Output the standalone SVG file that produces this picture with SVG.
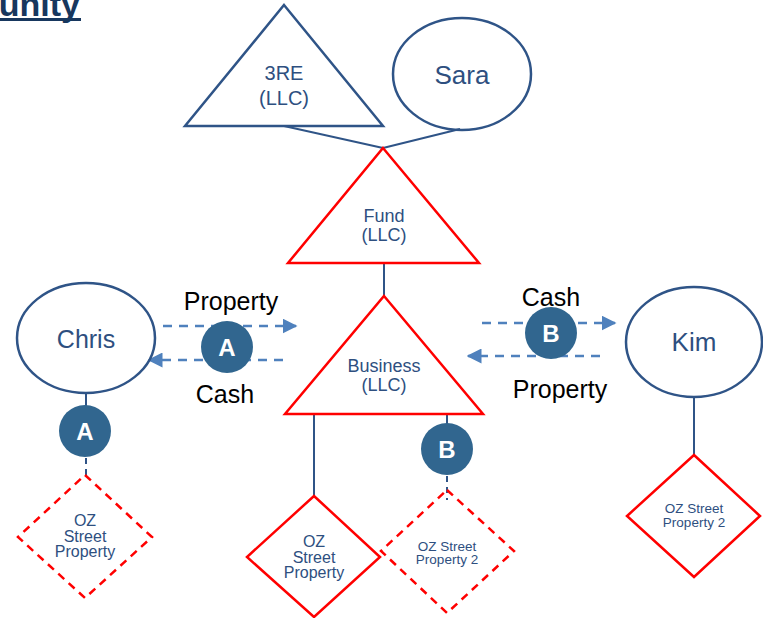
<svg xmlns="http://www.w3.org/2000/svg" width="763" height="618" viewBox="0 0 763 618">
<defs>
<style>
.nav{fill:none;stroke:#2F5487;stroke-width:2.5}
.red{fill:none;stroke:#FF0000;stroke-width:2.5}
.redd{fill:none;stroke:#FF0000;stroke-width:2.5;stroke-dasharray:8,6}
.ln{stroke:#2F5487;stroke-width:2;fill:none}
.lnd{stroke:#2F5487;stroke-width:2;fill:none;stroke-dasharray:6,5}
.arr{stroke:#4F81BD;stroke-width:2.5;fill:none;stroke-dasharray:9,7}
.t{font-family:"Liberation Sans",Arial,sans-serif;fill:#2E4F7F;text-anchor:middle}
.k{font-family:"Liberation Sans",Arial,sans-serif;fill:#000;text-anchor:middle;font-size:25px}
.bc{fill:#31668F}
.bl{font-family:"Liberation Sans",Arial,sans-serif;fill:#fff;font-weight:bold;font-size:24px;text-anchor:middle}
</style>
<marker id="ah" viewBox="0 0 10 10" refX="9" refY="5" markerWidth="6" markerHeight="6" markerUnits="strokeWidth" orient="auto">
<path d="M0,0 L10,5 L0,10 z" fill="#4F81BD"/>
</marker>
</defs>
<text x="80" y="16" font-family="Liberation Sans,Arial,sans-serif" font-weight="bold" font-size="34" fill="#17375E" text-anchor="end">Opportunity</text>
<rect x="0" y="18" width="81" height="3" fill="#17375E"/>

<g id="connectors">
<line class="ln" x1="284" y1="126" x2="383" y2="148"/>
<line class="ln" x1="460" y1="129" x2="383" y2="148"/>
<line class="ln" x1="384" y1="263" x2="384" y2="296"/>
<line class="ln" x1="86" y1="393" x2="86" y2="406"/>
<line class="lnd" x1="86" y1="458" x2="86" y2="476"/>
<line class="ln" x1="314" y1="414" x2="314" y2="496"/>
<line class="ln" x1="447" y1="414" x2="447" y2="424"/>
<line class="lnd" x1="447" y1="476" x2="447" y2="500"/>
<line class="ln" x1="694" y1="397" x2="694" y2="455"/>
<line class="arr" x1="163" y1="326" x2="296" y2="326" marker-end="url(#ah)"/>
<line class="arr" x1="283" y1="360" x2="149" y2="360" marker-end="url(#ah)"/>
<line class="arr" x1="482" y1="323" x2="615" y2="323" marker-end="url(#ah)"/>
<line class="arr" x1="600" y1="356" x2="468" y2="356" marker-end="url(#ah)"/>
</g>

<g id="n3re">
<polygon class="nav" points="284,5 383,126 185,126"/>
<text class="t" x="284" y="80" font-size="20">3RE</text>
<text class="t" x="284" y="105" font-size="20">(LLC)</text>
</g>
<g id="sara">
<ellipse class="nav" cx="462" cy="74" rx="69" ry="56"/>
<text class="t" x="462" y="84" font-size="26">Sara</text>
</g>
<g id="fund">
<polygon class="red" points="383,148 479,263 288,263"/>
<text class="t" x="384" y="222" font-size="18">Fund</text>
<text class="t" x="384" y="241" font-size="18">(LLC)</text>
</g>
<g id="business">
<polygon class="red" points="384,296 483,414 285,414"/>
<text class="t" x="384" y="372" font-size="18">Business</text>
<text class="t" x="384" y="391" font-size="18">(LLC)</text>
</g>
<g id="chris">
<ellipse class="nav" cx="86" cy="338" rx="69" ry="55"/>
<text class="t" x="86" y="348" font-size="25">Chris</text>
</g>
<g id="kim">
<ellipse class="nav" cx="694" cy="342" rx="68" ry="55"/>
<text class="t" x="694" y="351" font-size="26">Kim</text>
</g>

<g id="labels">
<text class="k" x="231" y="310">Property</text>
<text class="k" x="225" y="403">Cash</text>
<text class="k" x="551" y="306">Cash</text>
<text class="k" x="560" y="398">Property</text>
</g>

<g id="badgeA1">
<circle class="bc" cx="227" cy="347" r="26"/>
<text class="bl" x="227" y="356">A</text>
</g>
<g id="badgeA2">
<circle class="bc" cx="85" cy="431" r="26"/>
<text class="bl" x="85" y="440">A</text>
</g>
<g id="badgeB1">
<circle class="bc" cx="551" cy="333" r="26"/>
<text class="bl" x="551" y="342">B</text>
</g>
<g id="badgeB2">
<circle class="bc" cx="447" cy="449" r="26"/>
<text class="bl" x="447" y="458">B</text>
</g>

<g id="ozChris">
<polygon class="redd" points="85,475 152,537 85,598 18,537"/>
<text class="t" x="85" y="526" font-size="16">OZ</text>
<text class="t" x="85" y="542" font-size="16">Street</text>
<text class="t" x="85" y="557" font-size="16">Property</text>
</g>
<g id="ozBiz">
<polygon class="red" points="314,496 380,557 314,617 247,557"/>
<text class="t" x="314" y="547" font-size="16">OZ</text>
<text class="t" x="314" y="563" font-size="16">Street</text>
<text class="t" x="314" y="578" font-size="16">Property</text>
</g>
<g id="ozBiz2">
<polygon class="redd" points="447,490 514,551 447,613 381,551"/>
<text class="t" x="447" y="551" font-size="13.5">OZ Street</text>
<text class="t" x="447" y="564" font-size="13.5">Property 2</text>
</g>
<g id="ozKim">
<polygon class="red" points="694,455 760,516 694,577 627,516"/>
<text class="t" x="694" y="513" font-size="13.5">OZ Street</text>
<text class="t" x="694" y="527" font-size="13.5">Property 2</text>
</g>
</svg>
